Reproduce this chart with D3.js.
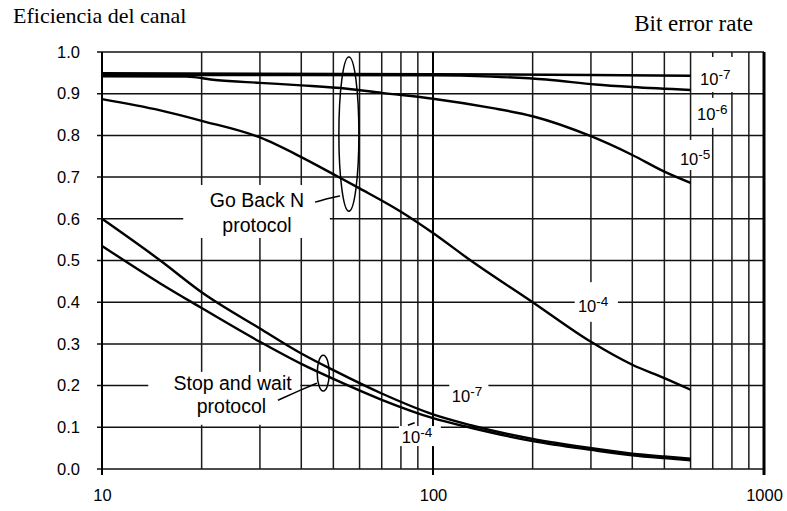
<!DOCTYPE html>
<html><head><meta charset="utf-8">
<script src="https://cdn.jsdelivr.net/npm/d3@7"></script>
<style>body{margin:0;background:#fff}svg{display:block}</style>
</head><body>
<svg id="chart" width="787" height="511"></svg>
<script>
// ---------- data ----------
const xMajorTicks = [10, 100, 1000];
const xMinorTicks = [20,30,40,50,60,70,80,90,200,300,400,500,600,700,800,900];
const yTicks = [0,0.1,0.2,0.3,0.4,0.5,0.6,0.7,0.8,0.9,1.0];

// Go Back N protocol, [frame length, efficiency]
const gbn7 = [[10,0.949],[100,0.947],[300,0.945],[600,0.943]];
const gbn6 = [[10,0.945],[100,0.944],[150,0.941],[220,0.934],[310,0.922],[400,0.916],[600,0.909]];
const gbn5 = [[10,0.942],[18,0.941],[22,0.933],[30,0.926],[40,0.92],[55,0.912],[70,0.902],[100,0.888],[150,0.866],[200,0.846],[300,0.798],[400,0.753],[500,0.713],[600,0.686]];
const gbn4 = [[10,0.887],[15,0.86],[20,0.835],[30,0.795],[40,0.748],[50,0.707],[60,0.673],[80,0.617],[100,0.566],[130,0.50],[200,0.40],[300,0.305],[400,0.25],[500,0.218],[600,0.19]];
// Stop and wait protocol
const sw7 = [[10,0.60],[15,0.50],[20,0.424],[30,0.337],[40,0.277],[50,0.237],[70,0.181],[100,0.131],[130,0.105],[200,0.072],[300,0.05],[400,0.037],[500,0.03],[600,0.025]];
const sw4 = [[10,0.535],[15,0.445],[20,0.386],[30,0.305],[40,0.252],[50,0.216],[70,0.166],[100,0.122],[130,0.099],[200,0.067],[300,0.046],[400,0.033],[500,0.026],[600,0.021]];

// curve labels: [x, y, base, exponent]
const curveLabels = [
  [641,0.921,"10","-7"],[628,0.837,"10","-6"],[557,0.729,"10","-5"],[274,0.376,"10","-4"],
  [114,0.161,"10","-7"],[80.5,0.062,"10","-4"]
];
// white masks behind labels: [x0, x1, y0, y1]
const masks = [
  [17.6,48.8,0.681,0.554],[13.8,39.7,0.233,0.106],[268,362,0.448,0.353],
  [614,835,0.988,0.904],[614,778,0.89,0.818],[550,688,0.789,0.717],
  [112,147,0.204,0.153],[78.9,105.6,0.103,0.055]
];
const groupText = [
  [29.4,0.628,"Go Back N"],[29.4,0.568,"protocol"],
  [24.8,0.189,"Stop and wait"],[24.6,0.134,"protocol"]
];
// ellipses: [cx, cy, rx(px), ry(data)]
const ellipses = [[55.7,0.803,10,0.185],[46.6,0.23,6,0.043]];
// leaders
const leaders = [
  [[44,0.640],[49,0.650],[52.4,0.655]],
  [[34,0.165],[40,0.19],[44.6,0.206]],
  [[84,0.105],[88,0.111]]
];

// ---------- chart ----------
const svg = d3.select("#chart");
const x = d3.scaleLog().domain([10,1000]).range([102,764]);
const y = d3.scaleLinear().domain([0,1]).range([469,52]);

const grid = svg.append("g");
grid.selectAll("line.h").data(yTicks).join("line")
  .attr("x1", x(10)-5).attr("x2", x(1000))
  .attr("y1", d=>y(d)).attr("y2", d=>y(d))
  .attr("stroke","#111").attr("stroke-width",1.5);
grid.selectAll("line.vm").data(xMinorTicks).join("line")
  .attr("x1", d=>x(d)).attr("x2", d=>x(d))
  .attr("y1", y(1)).attr("y2", y(0))
  .attr("stroke","#1a1a1a").attr("stroke-width",1.5);
grid.selectAll("line.vM").data(xMajorTicks).join("line")
  .attr("x1", d=>x(d)).attr("x2", d=>x(d))
  .attr("y1", y(1)).attr("y2", y(0)+6)
  .attr("stroke","#000").attr("stroke-width", d=> d===1000?3:2);

// masks
svg.append("g").selectAll("rect").data(masks).join("rect")
  .attr("x", d=>x(d[0])).attr("width", d=>x(d[1])-x(d[0]))
  .attr("y", d=>y(d[2])).attr("height", d=>y(d[3])-y(d[2]))
  .attr("fill","#fff");

// axes labels
const yAxis = svg.append("g").attr("transform",`translate(${x(10)},0)`)
  .call(d3.axisLeft(y).tickValues(yTicks).tickFormat(d3.format(".1f")).tickSize(0).tickPadding(22));
const xAxis = svg.append("g").attr("transform",`translate(0,${y(0)})`)
  .call(d3.axisBottom(x).tickValues(xMajorTicks).tickFormat(d3.format("d")).tickSize(0).tickPadding(20));
[yAxis,xAxis].forEach(a=>{ a.select(".domain").remove();
  a.selectAll("text").attr("font-family","Liberation Sans, Arial, sans-serif").attr("font-size",16.5).attr("fill","#000"); });

// curves
const line = d3.line().x(d=>x(d[0])).y(d=>y(d[1])).curve(d3.curveMonotoneX);
const series = [gbn7,gbn6,gbn5,gbn4,sw7,sw4];
svg.append("g").selectAll("path").data(series).join("path")
  .attr("d", line).attr("fill","none").attr("stroke","#000")
  .attr("stroke-width",2.4).attr("stroke-linejoin","round");

// ellipses
svg.append("g").selectAll("ellipse").data(ellipses).join("ellipse")
  .attr("cx", d=>x(d[0])).attr("cy", d=>y(d[1]))
  .attr("rx", d=>d[2]).attr("ry", d=>y(0)-y(d[3]))
  .attr("fill","none").attr("stroke","#000").attr("stroke-width",1.5);

// leaders
const lline = d3.line().x(d=>x(d[0])).y(d=>y(d[1])).curve(d3.curveBasis);
svg.append("g").selectAll("path").data(leaders).join("path")
  .attr("d", lline).attr("fill","none").attr("stroke","#000").attr("stroke-width",1.5);

// curve labels
const cl = svg.append("g").selectAll("text").data(curveLabels).join("text")
  .attr("x", d=>x(d[0])).attr("y", d=>y(d[1]))
  .attr("font-family","Liberation Sans, Arial, sans-serif").attr("font-size",16.5).attr("fill","#000");
cl.append("tspan").text(d=>d[2]);
cl.append("tspan").attr("dy",-6).attr("font-size",13.5).text(d=>d[3]);

// group labels
svg.append("g").selectAll("text").data(groupText).join("text")
  .attr("x", d=>x(d[0])).attr("y", d=>y(d[1])).attr("text-anchor","middle")
  .attr("font-family","Liberation Sans, Arial, sans-serif").attr("font-size",19.5).attr("fill","#000")
  .text(d=>d[2]);

// titles
svg.append("text").attr("x",13).attr("y",23)
  .attr("font-family","Liberation Serif, Times New Roman, serif").attr("font-size",22).attr("fill","#000")
  .text("Eficiencia del canal");
svg.append("text").attr("x",753).attr("y",31).attr("text-anchor","end")
  .attr("font-family","Liberation Serif, Times New Roman, serif").attr("font-size",23).attr("fill","#000")
  .text("Bit error rate");
</script>
</body></html>
